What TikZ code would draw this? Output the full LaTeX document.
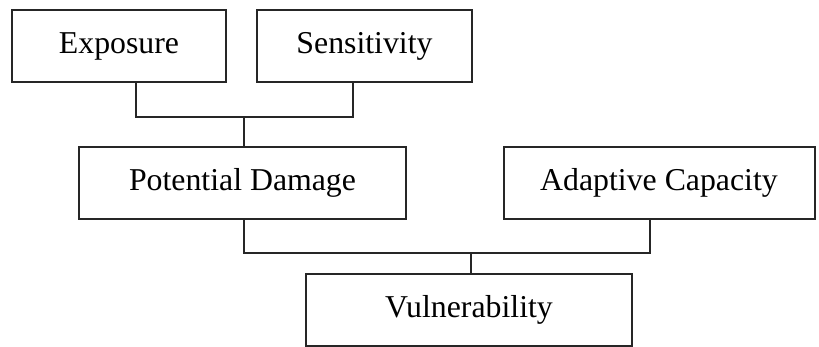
\documentclass[tikz,border=0pt]{standalone}
\usepackage{fontspec}
\setmainfont{Liberation Serif}
\usepackage{tikz}

\begin{document}
\begin{tikzpicture}[x=0.5pt, y=-0.5pt,
	box/.style={draw=black!85, line width=1pt, rectangle, minimum height=36pt, inner sep=0pt, font=\fontsize{15.9}{18}\selectfont},
	link/.style={draw=black!85, line width=1pt}]
	\useasboundingbox (0,0) rectangle (819,347);

	\node[box, minimum width=107pt] (expo) at (119,46) {Exposure};
	\node[box, minimum width=107.5pt] (sens) at (364.5,46) {Sensitivity};
	\node[box, minimum width=163.5pt] (pot) at (242.5,183) {Potential Damage};
	\node[box, minimum width=155.5pt] (adap) at (659,183) {Adaptive Capacity};
	\node[box, minimum width=163pt, minimum height=35.5pt] (vul) at (469,310) {Vulnerability};

	\coordinate (j1) at (244,117);
	\coordinate (j2) at (471,253);

	\draw[link] ([xshift=8.5pt]expo.south) |- (j1) -| ([xshift=-5.75pt]sens.south);
	\draw[link] (j1) -- (j1 |- pot.north);
	\draw[link] ([xshift=0.75pt]pot.south) |- (j2) -| ([xshift=-4.5pt]adap.south);
	\draw[link] (j2) -- (j2 |- vul.north);
\end{tikzpicture}
\end{document}
